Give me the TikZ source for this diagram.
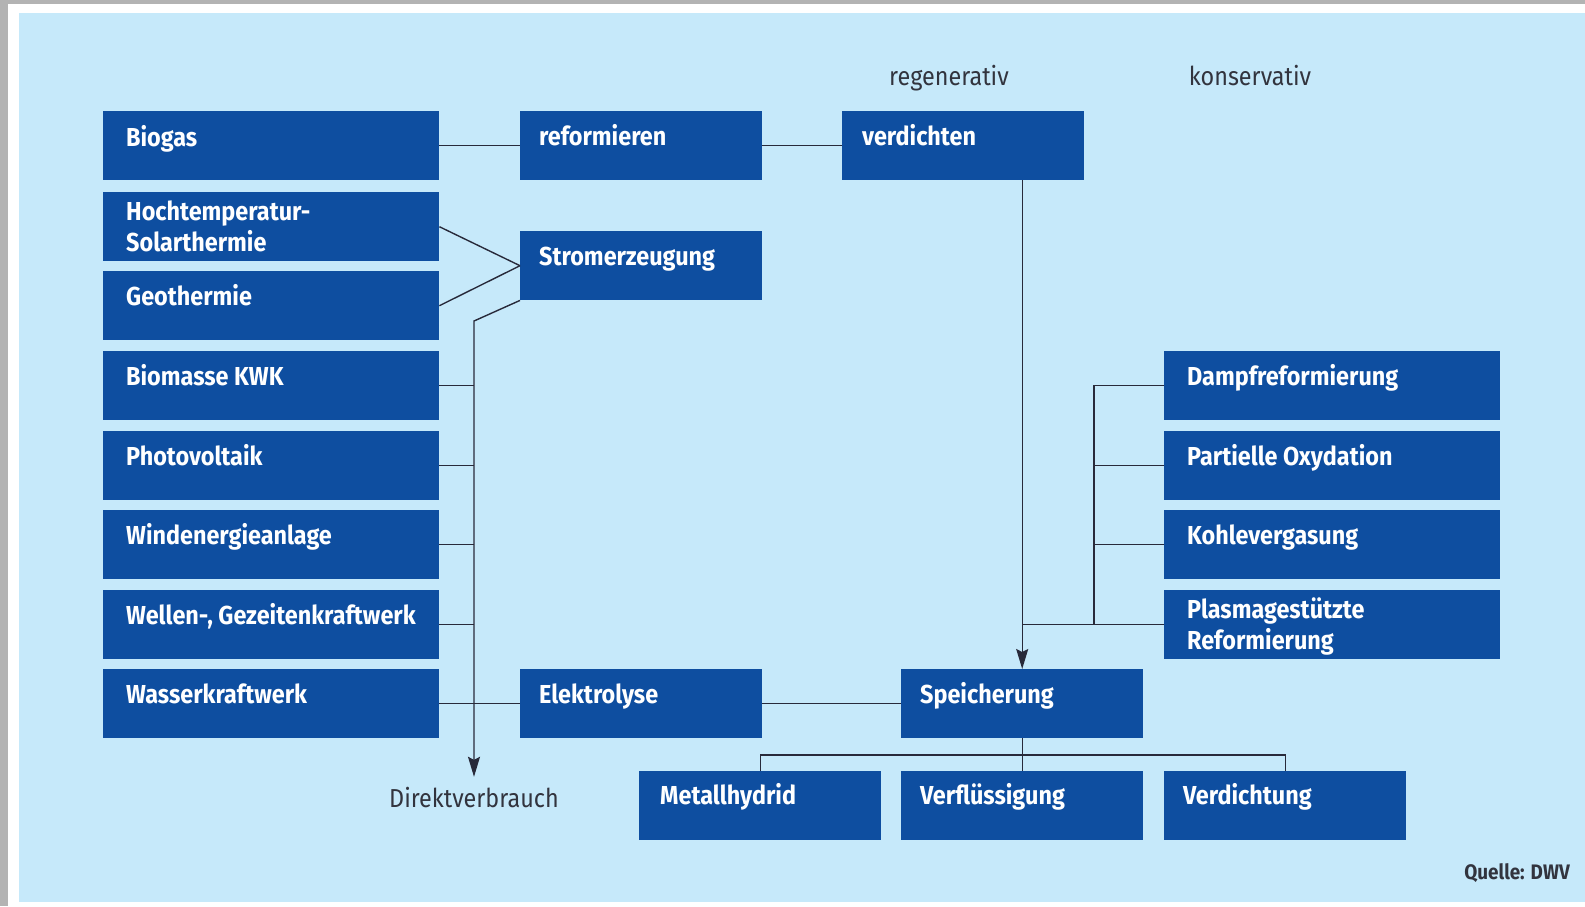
\documentclass[tikz,border=0pt]{standalone}
\usepackage{fontspec}
\setmainfont{Fira Sans}[FakeStretch=0.9]
\usetikzlibrary{arrows.meta,calc}
\definecolor{boxblue}{RGB}{14,78,160}
\definecolor{bgblue}{RGB}{198,233,250}
\definecolor{edgegray}{RGB}{179,179,179}
\definecolor{linecol}{RGB}{40,42,58}
\definecolor{hdrcol}{RGB}{50,52,62}
\tikzset{
  box/.style={fill=boxblue, draw=none, anchor=north west, inner sep=0pt, minimum height=69pt},
  wide/.style={box, minimum width=336pt},
  narrow/.style={box, minimum width=242pt},
  txt/.style={anchor=base west, inner sep=0pt, text=white, font=\fontsize{26}{31}\selectfont\bfseries, align=left},
  hdr/.style={anchor=base, inner sep=0pt, text=hdrcol, font=\fontsize{26}{31}\selectfont},
  conn/.style={draw=linecol, line width=1.4pt},
  arr/.style={conn, -{Stealth[length=20pt,width=12pt,inset=3pt]}}
}
\begin{document}
\begin{tikzpicture}[x=1pt,y=-1pt]
\useasboundingbox (0,0) rectangle (1585,906);
\fill[edgegray] (0,0) rectangle (1585,906);
\fill[white] (8,4) rectangle (1585,906);
\fill[bgblue] (19,13) rectangle (1585,902);

% left column
\node[wide] (bio) at (103,111) {};
\node[wide] (hoch) at (103,192) {};
\node[wide] (geo) at (103,271) {};
\node[wide] (bkwk) at (103,351) {};
\node[wide] (pv) at (103,431) {};
\node[wide] (wind) at (103,510) {};
\node[wide] (well) at (103,590) {};
\node[wide] (wass) at (103,669) {};
% middle
\node[narrow] (ref) at (520,111) {};
\node[narrow] (strom) at (520,231) {};
\node[narrow] (elek) at (520,669) {};
\node[narrow] (verd) at (842,111) {};
\node[narrow] (spei) at (901,669) {};
% right
\node[wide] (damp) at (1164,351) {};
\node[wide] (part) at (1164,431) {};
\node[wide] (kohle) at (1164,510) {};
\node[wide] (plas) at (1164,590) {};
% bottom
\node[narrow] (metall) at (639,771) {};
\node[narrow] (verfl) at (901,771) {};
\node[narrow] (verdg) at (1164,771) {};

% texts (base = baseline of last line)
\node[txt] at ($(bio.north west)+(23,35)$) {Biogas};
\node[txt] at ($(hoch.north west)+(23,59)$) {Hochtemperatur-\\Solarthermie};
\node[txt] at ($(geo.north west)+(23,34)$) {Geothermie};
\node[txt] at ($(bkwk.north west)+(23,34)$) {Biomasse KWK};
\node[txt] at ($(pv.north west)+(23,34)$) {Photovoltaik};
\node[txt] at ($(wind.north west)+(23,34)$) {Windenergieanlage};
\node[txt] at ($(well.north west)+(23,34)$) {Wellen-, Gezeitenkraftwerk};
\node[txt] at ($(wass.north west)+(23,34)$) {Wasserkraftwerk};
\node[txt] at ($(ref.north west)+(19,34)$) {reformieren};
\node[txt] at ($(strom.north west)+(19,34)$) {Stromerzeugung};
\node[txt] at ($(elek.north west)+(19,34)$) {Elektrolyse};
\node[txt] at ($(verd.north west)+(20,34)$) {verdichten};
\node[txt] at ($(spei.north west)+(19,34)$) {Speicherung};
\node[txt] at ($(damp.north west)+(23,34)$) {Dampfreformierung};
\node[txt] at ($(part.north west)+(23,34)$) {Partielle Oxydation};
\node[txt] at ($(kohle.north west)+(23,34)$) {Kohlevergasung};
\node[txt] at ($(plas.north west)+(23,59)$) {Plasmagestützte\\Reformierung};
\node[txt] at ($(metall.north west)+(21,33)$) {Metallhydrid};
\node[txt] at ($(verfl.north west)+(19,33)$) {Verflüssigung};
\node[txt] at ($(verdg.north west)+(19,33)$) {Verdichtung};

\node[hdr] (reg) at (949,85) {regenerativ};
\node[hdr] (kons) at (1250,85) {konservativ};
\node[hdr, inner sep=0pt, text depth=0pt, text height=30pt] (dv) at (474,807) {Direktverbrauch};
\node[anchor=base east, inner sep=0pt, text=hdrcol, font=\fontsize{21}{25}\selectfont\bfseries] (src) at (1570,879) {Quelle: DWV};

% coordinates
\coordinate (bend) at (474,321);
\coordinate (rb) at (1094,0);
\coordinate (bus) at (0,755);

% connectors
\draw[conn] (bio.east) -- (ref.west);
\draw[conn] (ref.east) -- (verd.west);
\draw[conn] (hoch.east) -- (strom.west);
\draw[conn] (geo.east) -- (strom.west);
\draw[arr] (strom.south west) -- (bend) -- (dv.north);
\foreach \n in {bkwk,pv,wind,well}
  \draw[conn] (\n.east) -- (\n.east -| bend);
\draw[conn] (wass.east) -- (elek.west);
\draw[conn] (elek.east) -- (spei.west);
\draw[arr] (verd.south -| spei.north) -- (spei.north);
\draw[conn] (damp.west) -- (damp.west -| rb) -- (plas.west -| rb);
\draw[conn] (part.west) -- (part.west -| rb);
\draw[conn] (kohle.west) -- (kohle.west -| rb);
\draw[conn] (plas.west) -- (plas.west -| spei.north);
\draw[conn] (spei.south) -- (verfl.north);
\draw[conn] (metall.north) -- (metall.north |- bus) -- (verdg.north |- bus) -- (verdg.north);
\end{tikzpicture}
\end{document}
